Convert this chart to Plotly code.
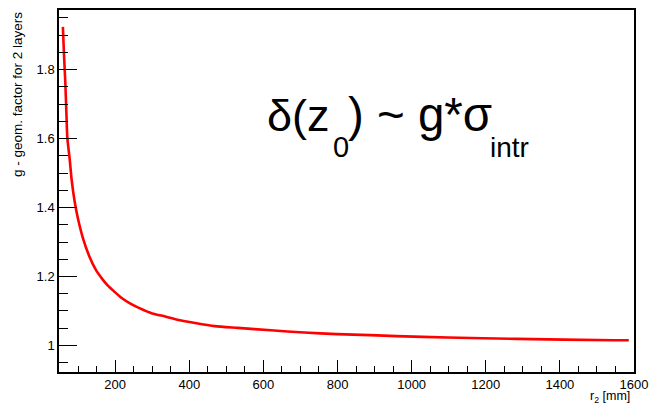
import plotly.graph_objects as go

# Data
r2_mm = [59, 62, 65.6, 68.3, 71, 77, 83, 90.5, 99, 112.6, 130.5, 148, 165, 179, 200,
         219.5, 240, 264, 300, 335, 371, 416, 469, 531, 620, 710, 798, 888, 959,
         1097, 1284, 1546, 1586]
g_factor = [1.924, 1.843, 1.761, 1.679, 1.602, 1.544, 1.477, 1.419, 1.371, 1.313,
            1.258, 1.219, 1.193, 1.175, 1.154, 1.136, 1.122, 1.109, 1.093, 1.084,
            1.074, 1.065, 1.056, 1.051, 1.044, 1.0375, 1.033, 1.030, 1.027, 1.023,
            1.019, 1.015, 1.015]

x_ticks = [200, 400, 600, 800, 1000, 1200, 1400, 1600]
y_ticks = [1, 1.2, 1.4, 1.6, 1.8]
y_tick_text = ["1", "1.2", "1.4", "1.6", "1.8"]

W, H = 656, 406
L, R, T, B = 59, 15, 8, 34
PW, PH = W - L - R, H - T - B

def px(x):
    return (x - L) / PW

def py(y):
    return (H - B - y) / PH

FONT = "Liberation Sans, Arial, sans-serif"

fig = go.Figure()
fig.add_trace(go.Scatter(x=r2_mm, y=g_factor, mode="lines",
                         line=dict(color="#ff0000", width=2.6, shape="spline",
                                   smoothing=0.6),
                         showlegend=False, hoverinfo="skip"))

axis_common = dict(showline=True, linecolor="black", linewidth=1.5, mirror=True,
                   showgrid=False, zeroline=False, ticks="inside",
                   tickcolor="black", tickwidth=1.2,
                   tickfont=dict(family=FONT, size=13, color="black"))

fig.update_xaxes(range=[48.5, 1600], tickvals=x_ticks, ticklen=12,
                 minor=dict(ticks="inside", dtick=50, tick0=0, ticklen=6,
                            tickcolor="black", tickwidth=1.2),
                 **axis_common)
fig.update_yaxes(range=[0.923, 1.973], tickvals=y_ticks, ticktext=y_tick_text,
                 ticklen=18,
                 minor=dict(ticks="inside", dtick=0.05, tick0=0, ticklen=9,
                            tickcolor="black", tickwidth=1.2),
                 **axis_common)

ann = []
# axis titles
ann.append(dict(text="r<sub>2</sub> [mm]", x=px(639), y=py(397), xref="paper", yref="paper",
                xanchor="right", yanchor="middle", showarrow=False,
                font=dict(family=FONT, size=12.5, color="black")))
ann.append(dict(text="g - geom. factor for 2 layers", x=px(17), y=py(8), xref="paper",
                yref="paper", xanchor="center", yanchor="top", textangle=-90,
                showarrow=False, font=dict(family=FONT, size=13.5, color="black")))
# big formula
ann.append(dict(text="δ(z", x=px(269), y=py(141), xref="paper", yref="paper",
                xanchor="left", yanchor="bottom", showarrow=False, borderpad=0,
                font=dict(family=FONT, size=45, color="black")))
ann.append(dict(text="0", x=px(335), y=py(163), xref="paper", yref="paper",
                xanchor="left", yanchor="bottom", showarrow=False, borderpad=0,
                font=dict(family=FONT, size=29, color="black")))
ann.append(dict(text=") ~ g*σ", x=px(350), y=py(141), xref="paper", yref="paper",
                xanchor="left", yanchor="bottom", showarrow=False, borderpad=0,
                font=dict(family=FONT, size=47.5, color="black")))
ann.append(dict(text="intr", x=px(494), y=py(163), xref="paper", yref="paper",
                xanchor="left", yanchor="bottom", showarrow=False, borderpad=0,
                font=dict(family=FONT, size=28, color="black")))

fig.update_layout(width=W, height=H, margin=dict(l=L, r=R, t=T, b=B),
                  paper_bgcolor="white", plot_bgcolor="white",
                  annotations=ann)

fig.write_html("out.html")
